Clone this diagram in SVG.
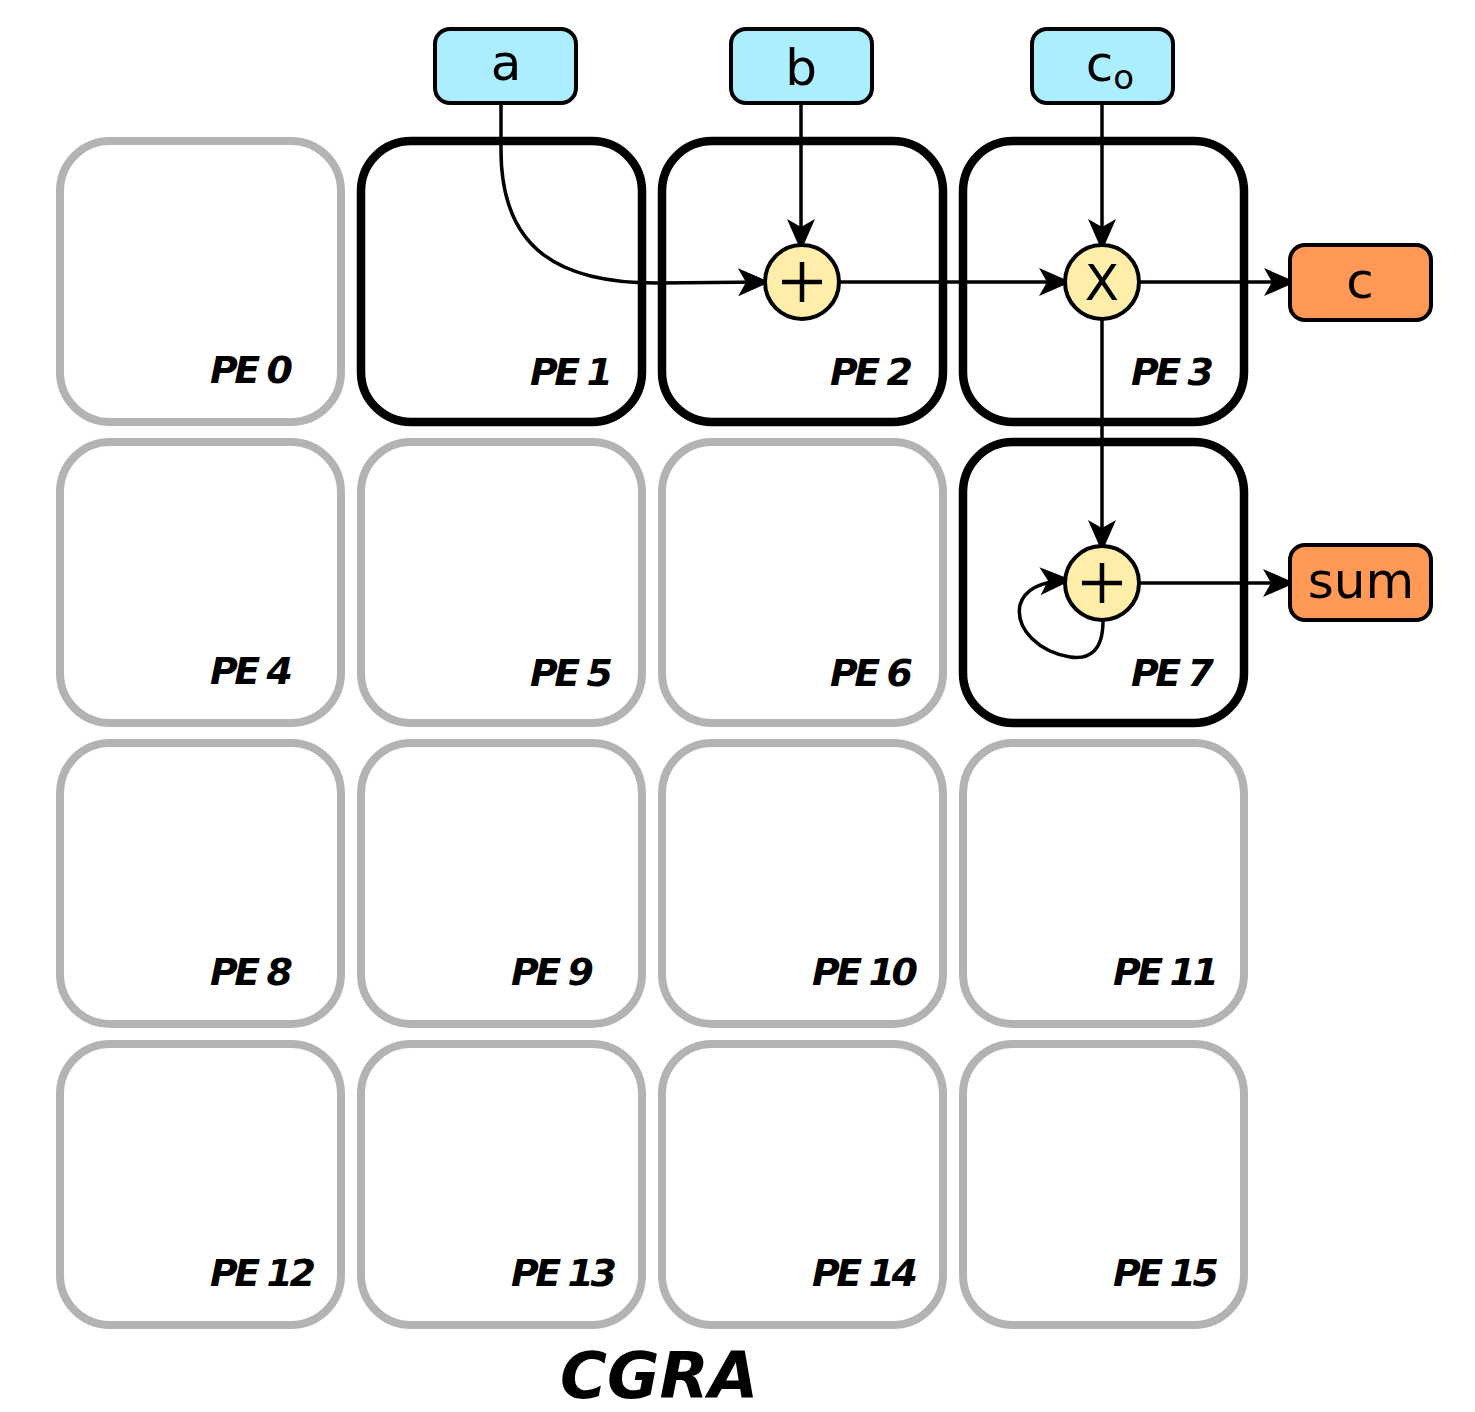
<svg xmlns="http://www.w3.org/2000/svg" width="1475" height="1412" viewBox="0 0 1475 1412">
<style>
.pe{fill:#fff;stroke:#b3b3b3;stroke-width:8}
.act{fill:#fff;stroke:#000;stroke-width:8.5}
.lbl{font-family:"DejaVu Sans",sans-serif;font-weight:bold;font-style:italic;font-size:38px;letter-spacing:-3.5px;fill:#000}
.in{fill:#aaeeff;stroke:#000;stroke-width:4}
.out{fill:#ff9955;stroke:#000;stroke-width:4}
.op{fill:#ffeeaa;stroke:#000;stroke-width:4}
.t{font-family:"DejaVu Sans",sans-serif;font-size:50px;fill:#000;text-anchor:middle}
.w{fill:none;stroke:#000;stroke-width:3.5}
</style>
<defs>
<marker id="ah" viewBox="0 0 32 28" refX="29" refY="14" markerWidth="32" markerHeight="28" markerUnits="userSpaceOnUse" orient="auto">
<path d="M0,0 L32,14 L0,28 L8,14 Z" fill="#000"/>
</marker>
</defs>
<g id="pe0"><rect class="pe" x="60" y="141" width="281" height="281" rx="50"/><text class="lbl" x="210" y="383">PE 0</text></g>
<g id="pe1"><rect class="act" x="361" y="141" width="281" height="281" rx="50"/><text class="lbl" x="530" y="385">PE 1</text></g>
<g id="pe2"><rect class="act" x="662" y="141" width="281" height="281" rx="50"/><text class="lbl" x="830" y="385">PE 2</text></g>
<g id="pe3"><rect class="act" x="963" y="141" width="281" height="281" rx="50"/><text class="lbl" x="1131" y="385">PE 3</text></g>
<g id="pe4"><rect class="pe" x="60" y="442" width="281" height="281" rx="50"/><text class="lbl" x="210" y="684">PE 4</text></g>
<g id="pe5"><rect class="pe" x="361" y="442" width="281" height="281" rx="50"/><text class="lbl" x="530" y="686">PE 5</text></g>
<g id="pe6"><rect class="pe" x="662" y="442" width="281" height="281" rx="50"/><text class="lbl" x="830" y="686">PE 6</text></g>
<g id="pe7"><rect class="act" x="963" y="442" width="281" height="281" rx="50"/><text class="lbl" x="1131" y="686">PE 7</text></g>
<g id="pe8"><rect class="pe" x="60" y="743" width="281" height="281" rx="50"/><text class="lbl" x="210" y="985">PE 8</text></g>
<g id="pe9"><rect class="pe" x="361" y="743" width="281" height="281" rx="50"/><text class="lbl" x="511" y="985">PE 9</text></g>
<g id="pe10"><rect class="pe" x="662" y="743" width="281" height="281" rx="50"/><text class="lbl" x="812" y="985">PE 10</text></g>
<g id="pe11"><rect class="pe" x="963" y="743" width="281" height="281" rx="50"/><text class="lbl" x="1113" y="985">PE 11</text></g>
<g id="pe12"><rect class="pe" x="60" y="1044" width="281" height="281" rx="50"/><text class="lbl" x="210" y="1286">PE 12</text></g>
<g id="pe13"><rect class="pe" x="361" y="1044" width="281" height="281" rx="50"/><text class="lbl" x="511" y="1286">PE 13</text></g>
<g id="pe14"><rect class="pe" x="662" y="1044" width="281" height="281" rx="50"/><text class="lbl" x="812" y="1286">PE 14</text></g>
<g id="pe15"><rect class="pe" x="963" y="1044" width="281" height="281" rx="50"/><text class="lbl" x="1113" y="1286">PE 15</text></g>
<g id="connectors">
<path class="w" d="M501,103 V150 C501,250 560,284 660,283 L767,282" marker-end="url(#ah)"/>
<path class="w" d="M801,103 V248" marker-end="url(#ah)"/>
<path class="w" d="M1102,103 V248" marker-end="url(#ah)"/>
<path class="w" d="M840,282 H1068" marker-end="url(#ah)"/>
<path class="w" d="M1140,282 H1293" marker-end="url(#ah)"/>
<path class="w" d="M1102,320 V549" marker-end="url(#ah)"/>
<path class="w" d="M1140,583 H1292" marker-end="url(#ah)"/>
<path class="w" d="M1103,621 C1103,650 1090,660 1070,657 C1040,652 1015,630 1020,605 C1025,587 1045,581 1069,580" marker-end="url(#ah)"/>
</g>
<g id="in_a"><rect class="in" x="435" y="29" width="141" height="74" rx="15"/><text class="t" x="506" y="80">a</text></g>
<g id="in_b"><rect class="in" x="731" y="29" width="141" height="74" rx="15"/><text class="t" x="801" y="85">b</text></g>
<g id="in_c0"><rect class="in" x="1032" y="29" width="141" height="74" rx="15"/><text class="t" x="1110" y="81">c<tspan font-size="34" dy="8">o</tspan></text></g>
<g id="op_add1"><circle class="op" cx="802" cy="282" r="37"/><path d="M782,282 H822 M802,262 V302" stroke="#000" stroke-width="4.5"/></g>
<g id="op_mul"><circle class="op" cx="1102" cy="282" r="37"/><text class="t" x="1102" y="300">X</text></g>
<g id="op_add2"><circle class="op" cx="1102" cy="583" r="37"/><path d="M1082,583 H1122 M1102,563 V603" stroke="#000" stroke-width="4.5"/></g>
<g id="out_c"><rect class="out" x="1290" y="245" width="141" height="75" rx="15"/><text class="t" x="1360" y="298">c</text></g>
<g id="out_sum"><rect class="out" x="1290" y="545" width="141" height="75" rx="15"/><text class="t" x="1361" y="598">sum</text></g>
<text x="560" y="1398" font-family="DejaVu Sans, sans-serif" font-weight="bold" font-style="italic" font-size="64" fill="#000">CGRA</text>
</svg>
